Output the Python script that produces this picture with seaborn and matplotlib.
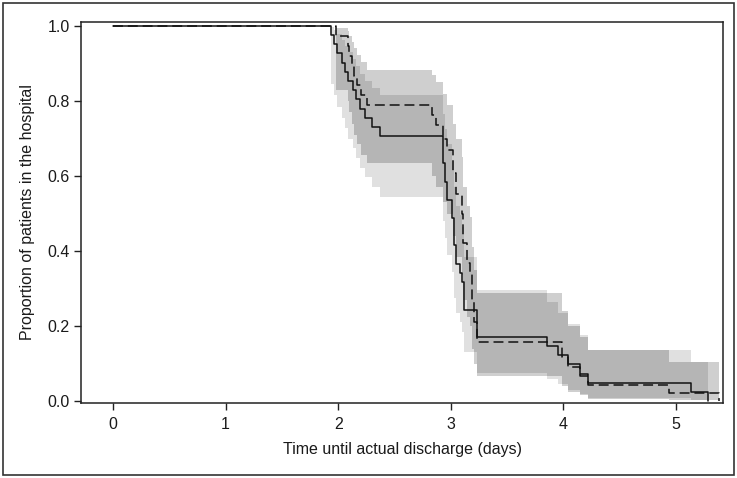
import numpy as np
import pandas as pd
import matplotlib
matplotlib.use("Agg")
import matplotlib.pyplot as plt
from matplotlib.patches import Rectangle
import seaborn as sns

# ---------------- data ----------------
# Group A (solid line)
time_a = [0.00, 1.94, 1.96, 1.99, 2.03, 2.06, 2.09, 2.13, 2.16, 2.19, 2.24, 2.30, 2.37,
          2.93, 2.95, 2.97, 3.01, 3.03, 3.05, 3.08, 3.10, 3.12, 3.23,
          3.85, 3.95, 4.04, 4.15, 4.22, 5.13, 5.28]
surv_a = [1.000, 0.976, 0.951, 0.927, 0.902, 0.878, 0.854, 0.829, 0.805, 0.780, 0.756, 0.732, 0.707,
          0.634, 0.585, 0.537, 0.488, 0.415, 0.366, 0.341, 0.317, 0.244, 0.171,
          0.146, 0.122, 0.098, 0.073, 0.049, 0.024, 0.000]
lower_a = [1.000, 0.845, 0.815, 0.785, 0.755, 0.728, 0.700, 0.675, 0.648, 0.622, 0.597, 0.571, 0.545,
           0.480, 0.435, 0.390, 0.345, 0.275, 0.235, 0.210, 0.185, 0.130, 0.075,
           0.060, 0.045, 0.030, 0.020, 0.008, 0.002]
upper_a = [1.000, 0.997, 0.990, 0.978, 0.963, 0.948, 0.930, 0.912, 0.893, 0.873, 0.853, 0.834, 0.815,
           0.765, 0.725, 0.685, 0.640, 0.570, 0.520, 0.495, 0.465, 0.385, 0.296,
           0.265, 0.235, 0.205, 0.175, 0.137, 0.105]

# Group B (dashed line)
time_b = [0.00, 1.98, 2.09, 2.10, 2.12, 2.14, 2.17, 2.20, 2.26,
          2.83, 2.87, 2.93, 2.97, 3.02, 3.05, 3.10, 3.11, 3.14, 3.17, 3.19, 3.21, 3.23,
          3.99, 4.04, 4.15, 4.22, 4.94, 5.38]
surv_b = [1.000, 0.974, 0.947, 0.921, 0.895, 0.868, 0.842, 0.816, 0.789,
          0.763, 0.737, 0.700, 0.669, 0.607, 0.553, 0.500, 0.421, 0.368, 0.342, 0.263, 0.211, 0.158,
          0.118, 0.092, 0.068, 0.044, 0.022, 0.000]
lower_b = [1.000, 0.830, 0.800, 0.770, 0.740, 0.710, 0.685, 0.657, 0.635,
           0.600, 0.570, 0.530, 0.500, 0.440, 0.385, 0.335, 0.270, 0.225, 0.200, 0.140, 0.100, 0.068,
           0.040, 0.025, 0.015, 0.006, 0.004]
upper_b = [1.000, 0.996, 0.987, 0.974, 0.958, 0.942, 0.923, 0.904, 0.883,
           0.870, 0.850, 0.820, 0.790, 0.740, 0.700, 0.650, 0.570, 0.520, 0.490, 0.410, 0.350, 0.288,
           0.240, 0.200, 0.170, 0.137, 0.105]

x_ticks = [0, 1, 2, 3, 4, 5]
y_ticks = [0.0, 0.2, 0.4, 0.6, 0.8, 1.0]
x_label = "Time until actual discharge (days)"
y_label = "Proportion of patients in the hospital"

# ---------------- styling ----------------
sns.set_theme(style="ticks")
plt.rcParams["font.family"] = ["Liberation Sans", "DejaVu Sans"]

fig = plt.figure(figsize=(7.37, 4.78), dpi=100)
W, H = 737, 478
ax = fig.add_axes([81 / W, 1 - 403 / H, (723 - 81) / W, (403 - 22) / H])

df = pd.concat([
    pd.DataFrame({"time": time_a, "surv": surv_a, "group": "A"}),
    pd.DataFrame({"time": time_b, "surv": surv_b, "group": "B"}),
], ignore_index=True)


def band(ax, t, lo, hi, alpha):
    tt = list(t)
    lo2 = list(lo) + [lo[-1]]
    hi2 = list(hi) + [hi[-1]]
    ax.fill_between(tt, lo2, hi2, step="post", color="black", alpha=alpha,
                    linewidth=0, zorder=1)


band(ax, time_a, lower_a, upper_a, 0.12)
band(ax, time_b, lower_b, upper_b, 0.19)

sns.lineplot(data=df[df.group == "B"], x="time", y="surv", ax=ax,
             color="#111111", linewidth=1.1, drawstyle="steps-post",
             estimator=None, legend=False, zorder=3)
ax.lines[-1].set_dashes((6.5, 3.2))
sns.lineplot(data=df[df.group == "A"], x="time", y="surv", ax=ax,
             color="#111111", linewidth=1.1, drawstyle="steps-post",
             estimator=None, legend=False, zorder=4)

ax.set_xlim(-0.284, 5.417)
ax.set_ylim(-0.0053, 1.0107)
ax.set_xticks(x_ticks)
ax.set_xticklabels([str(v) for v in x_ticks])
ax.set_yticks(y_ticks)
ax.set_yticklabels([f"{v:.1f}" for v in y_ticks])
ax.tick_params(axis="both", direction="out", length=5, width=1.0,
               color="#222222", labelsize=11.5, labelcolor="#1a1a1a", pad=3)
ax.tick_params(axis="x", pad=5)
for s in ax.spines.values():
    s.set_visible(True)
    s.set_linewidth(1.1)
    s.set_color("#222222")

ax.set_xlabel(x_label, fontsize=11.5, color="#1a1a1a", labelpad=7)
ax.set_ylabel(y_label, fontsize=11.5, color="#1a1a1a", labelpad=9)

fig.patches.append(Rectangle((3 / W, 3 / H), 731 / W, 472 / H, transform=fig.transFigure,
                             fill=False, edgecolor="#333333", linewidth=1.2, zorder=0))

fig.savefig("out.png", dpi=100)
